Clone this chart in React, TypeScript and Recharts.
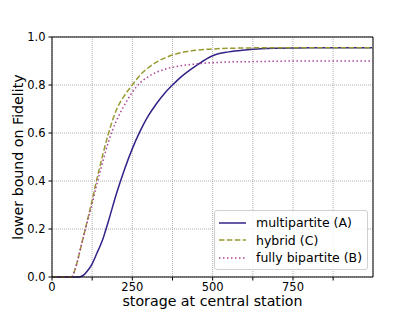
import { LineChart, Line, XAxis, YAxis, CartesianGrid, ReferenceLine } from 'recharts'

// storage values (x) at which the curves were read
const storage = [0, 50, 61, 70, 80, 85, 90, 100, 110, 125, 140, 150, 160, 175, 200, 225, 250, 275, 300, 325, 350, 375, 400, 450, 500, 550, 600, 650, 700, 750, 800, 900, 999]

const multipartite = [0, 0, 0, 0, 0, 0, 0.002, 0.01, 0.025, 0.055, 0.1, 0.13, 0.165, 0.23, 0.345, 0.446, 0.535, 0.61, 0.672, 0.722, 0.765, 0.8, 0.832, 0.882, 0.922, 0.938, 0.946, 0.951, 0.953, 0.954, 0.955, 0.955, 0.955]
const hybrid = [0, 0, 0, 0.025, 0.07, 0.098, 0.125, 0.18, 0.235, 0.32, 0.41, 0.465, 0.52, 0.595, 0.695, 0.755, 0.8, 0.843, 0.872, 0.895, 0.912, 0.925, 0.934, 0.945, 0.95, 0.953, 0.954, 0.955, 0.955, 0.955, 0.955, 0.955, 0.955]
const bipartite = [0, 0, 0, 0.025, 0.07, 0.098, 0.125, 0.178, 0.23, 0.305, 0.39, 0.44, 0.49, 0.56, 0.65, 0.715, 0.77, 0.81, 0.835, 0.853, 0.865, 0.874, 0.88, 0.888, 0.893, 0.896, 0.897, 0.898, 0.899, 0.9, 0.9, 0.9, 0.9]

const xTicks = [0, 125, 250, 375, 500, 625, 750, 875]
const xLabels = [0, 250, 500, 750]
const yTicks = [0, 0.2, 0.4, 0.6, 0.8, 1.0]

const series = [
  { key: 'A', name: 'multipartite (A)', color: '#332288', dash: undefined },
  { key: 'C', name: 'hybrid (C)', color: '#999933', dash: '5.5 2.4' },
  { key: 'B', name: 'fully bipartite (B)', color: '#AA4499', dash: '1.5 2.5' },
]

const data = storage.map((x, i) => ({ x, A: multipartite[i], C: hybrid[i], B: bipartite[i] }))

const FONT = '"DejaVu Sans", sans-serif'

function LegendBox() {
  return (
    <div style={{
      position: 'absolute', left: 214, top: 210, width: 154, height: 60, boxSizing: 'border-box',
      border: '1px solid #d0d0d0', borderRadius: 3, background: 'rgba(255,255,255,0.85)',
      padding: '3px 0 0 4px', fontFamily: FONT, fontSize: 12.5, color: '#000',
    }}>
      {series.map(s => (
        <div key={s.key} style={{ display: 'flex', alignItems: 'center', height: 17.5, whiteSpace: 'nowrap' }}>
          <svg width={27} height={6} style={{ marginRight: 10 }}>
            <line x1={0} y1={3} x2={27} y2={3} stroke={s.color} strokeWidth={1.5} strokeDasharray={s.dash} />
          </svg>
          <span>{s.name}</span>
        </div>
      ))}
    </div>
  )
}

export default function App() {
  return (
    <div style={{ position: 'absolute', left: 0, top: 0, width: 415, height: 311, background: '#fff' }}>
      <LineChart width={415} height={311} data={data} margin={{ top: 37, right: 42, left: 0, bottom: 0 }}>
        <CartesianGrid stroke="#b0b0b0" strokeDasharray="1 1" />
        <XAxis
          dataKey="x"
          type="number"
          domain={[0, 999]}
          ticks={xTicks}
          interval={0}
          height={34}
          tickSize={3.5}
          tickMargin={2}
          stroke="#000"
          tick={{ fill: '#000', fontSize: 11.5, fontFamily: FONT }}
          tickFormatter={(v: number) => (xLabels.includes(v) ? String(v) : '')}
          label={(props: any) => {
            const vb = props.viewBox
            return (
              <text x={vb.x + vb.width / 2} y={vb.y + 29} textAnchor="middle" fontSize={14.2} fontFamily={FONT} fill="#000">
                storage at central station
              </text>
            )
          }}
        />
        <YAxis
          type="number"
          domain={[0, 1]}
          ticks={yTicks}
          interval={0}
          width={52}
          tickSize={3.5}
          tickMargin={3}
          stroke="#000"
          tick={{ fill: '#000', fontSize: 11.5, fontFamily: FONT }}
          tickFormatter={(v: number) => v.toFixed(1)}
          label={(props: any) => {
            const vb = props.viewBox
            const cx = 18
            const cy = vb.y + vb.height / 2
            return (
              <text x={cx} y={cy} transform={`rotate(-90 ${cx} ${cy})`} textAnchor="middle" dominantBaseline="central" fontSize={14.2} fontFamily={FONT} fill="#000">
                lower bound on Fidelity
              </text>
            )
          }}
        />
        <ReferenceLine y={1} stroke="#000" strokeWidth={1} />
        <ReferenceLine x={999} stroke="#000" strokeWidth={1} />
        {series.map(s => (
          <Line
            key={s.key}
            dataKey={s.key}
            name={s.name}
            type="monotone"
            stroke={s.color}
            strokeWidth={1.5}
            strokeDasharray={s.dash}
            dot={false}
            isAnimationActive={false}
          />
        ))}
      </LineChart>
      <LegendBox />
    </div>
  )
}
